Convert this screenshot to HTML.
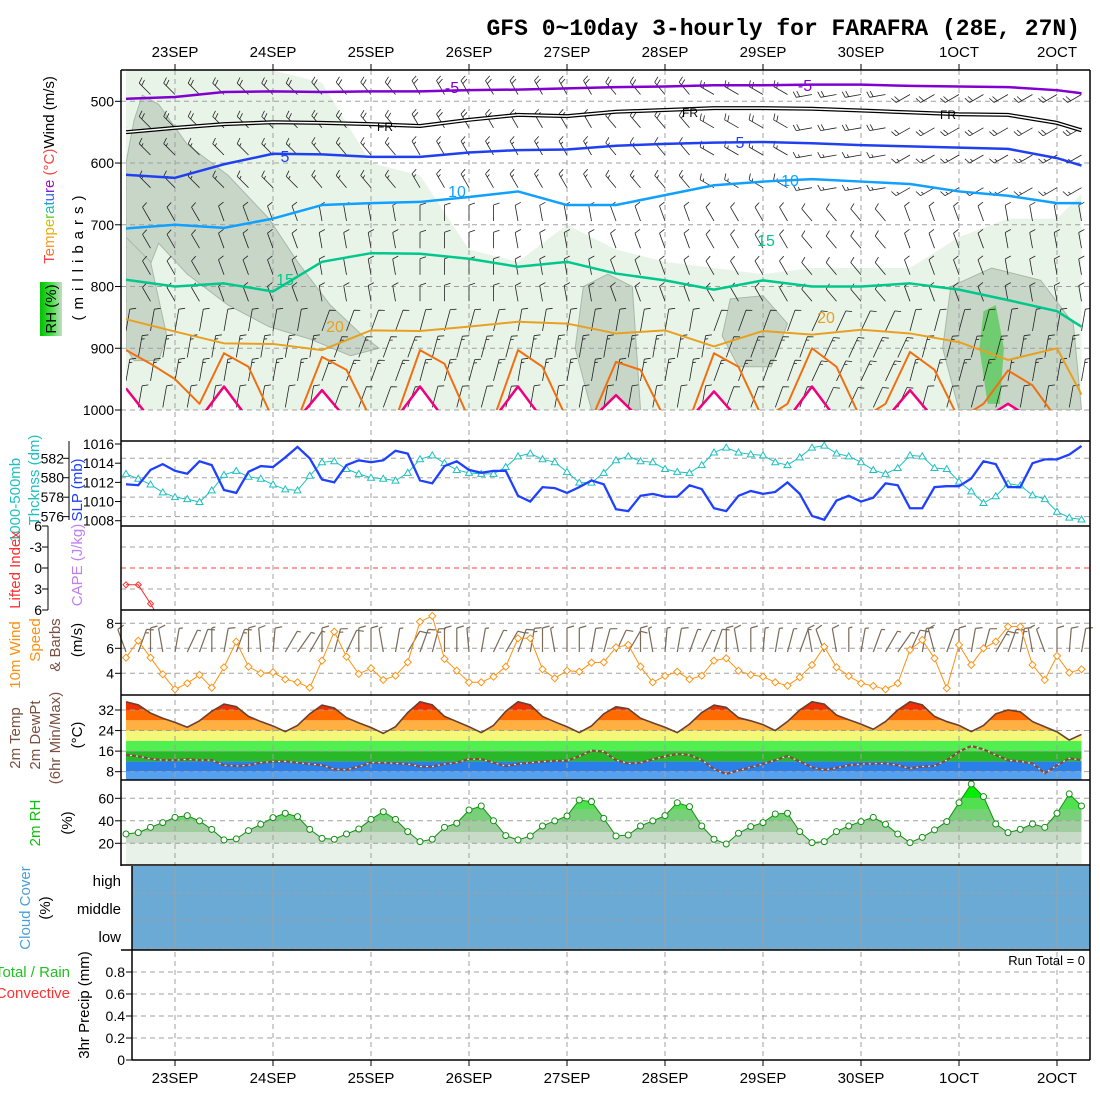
<!DOCTYPE html>
<html><head><meta charset="utf-8"><title>GFS meteogram FARAFRA</title>
<style>
html,body{margin:0;padding:0;background:#fff;}
svg{display:block;font-family:"Liberation Sans",sans-serif;}
</style></head>
<body>
<svg id="chart" xmlns="http://www.w3.org/2000/svg" width="1100" height="1100" viewBox="0 0 1100 1100">
<rect x="0" y="0" width="1100" height="1100" fill="#fff"/>
<text x="1080" y="35" text-anchor="end" font-family="Liberation Mono, monospace" font-weight="bold" font-size="23">GFS 0~10day 3-hourly for FARAFRA (28E, 27N)</text>
<defs>
<clipPath id="c1"><rect x="126" y="70" width="964" height="340"/></clipPath>
<clipPath id="c2"><rect x="121" y="441" width="969" height="85"/></clipPath>
<clipPath id="c3"><rect x="121" y="526" width="969" height="84"/></clipPath>
<clipPath id="c4"><rect x="121" y="610" width="969" height="85"/></clipPath>
<linearGradient id="rhgrad" x1="0" x2="1" y1="0" y2="0"><stop offset="0" stop-color="#00c000"/><stop offset="0.5" stop-color="#40e040"/><stop offset="1" stop-color="#c8dac8"/></linearGradient>
</defs>
<g id="layer-fill"></g>
<g id="layer-grid"></g>
<g id="layer-data"></g>
<g id="layer-frame"></g>
<g id="layer-text" font-size="13"></g>

<g font-size="15">
<text transform="translate(54,170) rotate(-90)" text-anchor="middle"><tspan fill="#ff4040">T</tspan><tspan fill="#ff7030">e</tspan><tspan fill="#ff9a20">m</tspan><tspan fill="#e8b010">p</tspan><tspan fill="#c8c800">e</tspan><tspan fill="#70c830">r</tspan><tspan fill="#20c0a0">a</tspan><tspan fill="#20a0e0">t</tspan><tspan fill="#3060ff">u</tspan><tspan fill="#8020e0">r</tspan><tspan fill="#a010c0">e</tspan><tspan fill="#ff4040"> (°C)</tspan><tspan fill="#000">Wind (m/s)</tspan></text>
<rect x="40" y="282" width="22" height="54" fill="url(#rhgrad)"/>
<text transform="translate(56,309) rotate(-90)" text-anchor="middle" fill="#000">RH (%)</text>
<text transform="translate(83,255) rotate(-90)" text-anchor="middle" letter-spacing="6">(millibars)</text>
<text transform="translate(20,500) rotate(-90)" text-anchor="middle" fill="#20c0c0">1000-500mb</text>
<text transform="translate(39,480) rotate(-90)" text-anchor="middle" fill="#20c0c0">Thcknss (dm)</text>
<text transform="translate(82,490) rotate(-90)" text-anchor="middle" fill="#2040ff">SLP (mb)</text>
<text transform="translate(20,570) rotate(-90)" text-anchor="middle" fill="#ff3030">Lifted Index</text>
<text transform="translate(82,565) rotate(-90)" text-anchor="middle" fill="#c080f0">CAPE (J/kg)</text>
<text transform="translate(20,655) rotate(-90)" text-anchor="middle" fill="#ff9010">10m Wind</text>
<text transform="translate(40,640) rotate(-90)" text-anchor="middle" fill="#ff9010">Speed</text>
<text transform="translate(60,645) rotate(-90)" text-anchor="middle" fill="#7a5040">&amp; Barbs</text>
<text transform="translate(82,640) rotate(-90)" text-anchor="middle">(m/s)</text>
<text transform="translate(20,738) rotate(-90)" text-anchor="middle" fill="#7a5040">2m Temp</text>
<text transform="translate(40,735) rotate(-90)" text-anchor="middle" fill="#7a5040">2m DewPt</text>
<text transform="translate(60,738) rotate(-90)" text-anchor="middle" fill="#7a5040">(6hr Min/Max)</text>
<text transform="translate(82,735) rotate(-90)" text-anchor="middle">(°C)</text>
<text transform="translate(40,823) rotate(-90)" text-anchor="middle" fill="#10c010">2m RH</text>
<text transform="translate(72,823) rotate(-90)" text-anchor="middle">(%)</text>
<text transform="translate(30,908) rotate(-90)" text-anchor="middle" fill="#4aa0d8">Cloud Cover</text>
<text transform="translate(50,908) rotate(-90)" text-anchor="middle">(%)</text>
<text x="70" y="977" text-anchor="end" fill="#20c020">Total / Rain</text>
<text x="70" y="998" text-anchor="end" fill="#ff3030">Convective</text>
<text transform="translate(89,1005) rotate(-90)" text-anchor="middle">3hr Precip (mm)</text>
<text x="121" y="886" text-anchor="end">high</text>
<text x="121" y="914" text-anchor="end">middle</text>
<text x="121" y="942" text-anchor="end">low</text>
<text x="1085" y="965" text-anchor="end" font-size="13">Run Total = 0</text>
</g>
</svg>
<script>
const dayLabels = ["23SEP","24SEP","25SEP","26SEP","27SEP","28SEP","29SEP","30SEP","1OCT","2OCT"];
const slp = [1011.8,1011.7,1013.3,1013.9,1013.2,1012.9,1014.2,1013.8,1011.2,1010.9,1013.1,1013.7,1013.6,1014.6,1015.7,1014.5,1012.3,1012.0,1013.8,1014.3,1014.1,1014.3,1015.3,1015.0,1012.2,1011.9,1013.7,1014.2,1013.3,1013.0,1013.2,1013.2,1010.6,1010.0,1011.5,1011.4,1010.9,1011.5,1012.2,1011.8,1009.2,1009.0,1010.6,1010.8,1010.5,1010.5,1011.7,1011.3,1009.3,1009.0,1010.6,1011.1,1010.8,1011.0,1012.0,1010.8,1008.5,1008.1,1010.1,1010.6,1010.0,1010.4,1011.9,1011.7,1009.3,1009.3,1011.5,1011.6,1011.6,1012.4,1014.2,1013.9,1011.5,1011.5,1014.0,1014.4,1014.4,1014.9,1015.8];
const thickness = [580.4,579.9,579.3,578.5,578.0,577.8,577.5,578.7,580.3,580.7,580.1,579.9,579.3,578.8,578.7,580.2,581.6,581.7,580.9,580.4,580.0,579.9,579.7,580.5,581.9,582.3,581.5,580.8,580.5,580.4,580.4,581.1,582.2,582.5,581.9,581.6,580.6,579.5,579.5,580.5,581.8,582.2,581.7,581.6,580.9,580.6,580.5,581.3,582.6,583.1,582.6,582.4,582.3,581.6,581.3,582.1,583.1,583.3,582.5,582.2,581.6,580.8,580.4,581.0,582.3,582.2,581.0,580.9,579.6,578.6,577.4,578.1,579.4,579.2,578.2,577.8,576.5,575.9,575.7];
const liftedIndex = [2.4,2.4,5.1,8,9,9,9,9,9,9,9,9,9,9,9,9,9,9,9,9,9,9,9,9,9,9,9,9,9,9,9,9,9,9,9,9,9,9,9,9,9,9,9,9,9,9,9,9,9,9,9,9,9,9,9,9,9,9,9,9,9,9,9,9,9,9,9,9,9,9,9,9,9,9,9,9,9,9,9];
const windSpeed = [5.25,6.61,5.25,3.92,2.72,3.2,3.87,2.85,4.48,6.53,4.53,4.0,4.08,3.52,3.28,2.85,5.01,7.33,5.33,3.95,4.4,3.47,3.81,4.88,8.13,8.59,5.15,4.21,3.28,3.28,3.73,4.53,6.8,6.8,4.32,3.6,4.21,4.13,4.85,4.88,6.08,6.27,4.53,3.28,3.79,4.13,3.52,3.81,5.01,5.2,4.21,3.87,3.73,3.28,3.01,3.68,4.67,6.13,4.48,3.79,3.2,2.99,2.72,3.2,5.87,6.67,5.2,2.8,6.27,4.67,6.0,6.53,7.73,7.73,4.67,3.47,5.39,4.05,4.32];
const windDir10 = [340,20,0,350,10,25,20,0,10,20,0,355,5,30,35,30,0,15,25,0,0,350,10,30,20,15,0,0,355,10,25,30,20,10,0,350,0,0,10,15,25,30,0,350,5,10,20,25,20,0,350,0,5,10,15,20,350,340,350,0,10,20,30,35,25,10,345,20,0,10,15,30,20,10,350,340,0,5,10];
const temp2m = [35.2,34.0,30.8,28.8,27.2,25.3,27.8,31.5,34.3,33.3,29.5,27.5,25.8,23.6,26.0,30.5,33.9,32.8,29.0,27.0,25.2,22.9,25.5,31.0,35.2,34.0,29.5,27.5,25.5,23.2,26.0,31.5,35.2,34.0,29.5,27.4,25.5,23.2,25.8,30.5,33.3,32.5,28.8,27.0,25.3,23.2,26.5,31.0,33.9,33.0,29.0,27.8,26.3,24.0,27.5,32.0,35.2,34.3,30.0,28.2,26.5,24.5,27.5,32.0,35.2,34.0,29.5,27.5,26.0,23.6,26.0,30.5,32.0,31.3,27.5,25.5,23.5,20.3,22.5];
const dewPt2m = [14.5,14.0,13.0,12.5,12.5,12.8,12.5,12.5,10.5,10.2,10.5,11.5,11.9,12.0,11.5,11.0,10.5,9.0,8.7,10.0,11.5,11.5,11.2,11.0,10.0,10.0,11.0,11.5,12.9,12.9,11.5,10.2,11.0,11.5,11.9,12.2,12.3,14.0,16.2,15.8,12.5,11.2,11.5,12.8,14.0,14.9,14.5,12.5,9.0,7.1,8.5,9.7,11.0,12.5,14.1,12.0,9.7,8.7,9.5,10.5,11.0,11.1,11.2,10.5,9.3,10.0,10.2,12.5,15.8,18.0,16.7,14.5,12.5,12.0,11.2,7.4,10.5,13.2,12.5];
const rh2m = [28.3,29.5,34.2,38.4,43.1,44.6,39.9,32.4,23.0,23.9,31.3,36.9,42.8,46.7,43.7,32.4,24.4,23.6,28.3,32.7,41.3,48.1,41.3,30.4,21.5,23.6,34.2,37.8,49.6,53.2,40.1,26.8,23.0,26.5,35.4,39.9,44.3,58.5,57.0,42.2,26.5,27.4,35.4,39.9,44.6,56.1,52.6,35.4,23.6,19.4,28.9,34.8,38.4,46.1,46.7,30.4,20.6,21.5,30.4,35.4,39.3,43.1,36.9,28.3,20.6,25.3,31.9,39.3,56.1,72.7,61.5,37.2,29.5,32.4,37.2,34.2,46.7,63.9,53.2];
const precip3h = [0,0,0,0,0,0,0,0,0,0,0,0,0,0,0,0,0,0,0,0,0,0,0,0,0,0,0,0,0,0,0,0,0,0,0,0,0,0,0,0,0,0,0,0,0,0,0,0,0,0,0,0,0,0,0,0,0,0,0,0,0,0,0,0,0,0,0,0,0,0,0,0,0,0,0,0,0,0,0];
const hours12 = [0,12,24,36,48,60,72,84,96,108,120,132,144,156,168,180,192,204,216,228,234];
const isoM5 = [496,493,485,484,485,484,484,482,481,479,477,476,474,474,473,473,475,476,477,482,487];
const isoFR = [550,543,537,534,535,537,540,530,522,524,517,514,511,511,512,515,518,521,522,535,547];
const iso5 = [619,624,602,585,586,590,590,583,579,578,572,569,567,566,568,571,573,575,577,592,604];
const iso10 = [706,700,705,690,668,665,663,655,646,668,668,652,636,630,626,630,634,646,653,665,665];
const iso15 = [789,800,795,808,760,746,747,755,768,760,779,790,805,790,800,800,795,805,822,840,865];
const iso20 = [853,873,892,893,903,871,872,865,857,860,876,871,897,872,878,870,876,890,919,900,975];
const moistTop = [450,450,450,450,470,600,620,740,760,700,740,760,770,780,770,770,770,720,690,690,650];
const hours6 = [0,6,12,18,24,30,36,42,48,54,60,66,72,78,84,90,96,102,108,114,120,126,132,138,144,150,156,162,168,174,180,186,192,198,204,210,216,222,228,234];
const iso25 = [903,925,950,990,908,930,1015,1015,914,935,1015,1015,903,925,1015,1015,903,930,1015,1015,922,935,1015,1015,908,930,1015,990,900,930,1015,990,906,935,1015,990,936,960,1015,1015];
const iso30 = [965,1015,1015,1015,962,1015,1015,1015,968,1015,1015,1015,962,1015,1015,1015,962,1015,1015,1015,976,1015,1015,1015,970,1015,1015,1015,962,1015,1015,1015,968,1015,1015,1015,990,1015,1015,1015];
const blobA = [[4,490],[8,505],[15,570],[25,620],[35,690],[42,760],[50,830],[58,880],[62,900],[55,912],[45,885],[35,865],[25,830],[15,780],[8,730],[2,830],[0,860],[0,600],[2,530]];
const blobB = [[0,720],[6,760],[10,880],[8,920],[2,920],[0,900]];
const blobC = [[112,800],[118,780],[124,800],[126,1000],[114,1000],[110,900]];
const blobD = [[148,820],[156,815],[162,860],[158,930],[150,930],[146,880]];
const blobE = [[202,800],[212,770],[224,790],[232,860],[234,1000],[204,1000],[200,900]];
const blobF = [[210,840],[213,830],[215,900],[214,990],[211,990],[209,900]];
const windLevels = [476,530,574,627,681,725,768,811,854,897,935,978];
const windLevelSpeed = [20,20,15,15,10,10,10,10,10,15,15,10];
const upperDirByDay = [315,315,320,330,330,320,300,260,240,240];
const midDirByDay = [330,340,350,0,350,340,330,320,340,350];
const lowDirByDay = [10,10,20,15,10,10,20,25,15,10];

const X0 = 126, PXH = 12.25/3;
function xH(h){ return X0 + h*PXH; }
function xi(i){ return X0 + i*12.25; }
function yP(p){ return 101.3 + (p-500)*0.6174; }
function ySLP(v){ return 444 + (1016-v)*9.59; }
function yThk(v){ return 458.3 + (582-v)*9.72; }
function yLI(v){ return 568 + v*7.0; }
function yWS(v){ return 623.3 + (8-v)*12.5; }
function yT(v){ return 710 + (32-v)*2.57; }
function yRH(v){ return 798.3 + (60-v)*1.125; }
function yPr(v){ return 1060 - v*110; }

const NS="http://www.w3.org/2000/svg";
function mk(parent, tag, attrs){
  const e=document.createElementNS(NS,tag);
  for(const k in attrs) e.setAttribute(k,attrs[k]);
  parent.appendChild(e); return e;
}
const gFill=document.getElementById('layer-fill');
const gGrid=document.getElementById('layer-grid');
const gData=document.getElementById('layer-data');
const gFrame=document.getElementById('layer-frame');
const gText=document.getElementById('layer-text');

let mt = hours12.map((h,k)=>xH(h)+','+yP(moistTop[k])).join(' ');
mt += ' '+xH(234)+','+yP(1000)+' '+xH(0)+','+yP(1000);
const moist=mk(gFill,'polygon',{points:mt,fill:'#e9f4e9','clip-path':'url(#c1)'});


const blobs=[blobA,blobB,blobC,blobD,blobE];
blobs.forEach(function(b){
  const pg=mk(gFill,'polygon',{points:b.map(q=>xH(q[0])+','+yP(q[1])).join(' '),fill:'#c8d6c8',stroke:'#a8b8a8','stroke-width':1,'clip-path':'url(#c1)'});
  
  
});
const core=mk(gFill,'polygon',{points:blobF.map(q=>xH(q[0])+','+yP(q[1])).join(' '),fill:'#70cc70','clip-path':'url(#c1)'});


const holePts = hours6.map((h,k)=>xH(h)+','+yP(Math.min(iso30[k],1015))).join(' ')+' '+xH(234)+','+yP(1015)+' '+xH(0)+','+yP(1015);
const hole=mk(gFill,'polygon',{points:holePts,fill:'#ffffff','clip-path':'url(#c1)'});



function hgrid(y,x1,name){
  const l=mk(gGrid,'line',{x1:x1,x2:1090,y1:y,y2:y,stroke:'#a0a0a0','stroke-dasharray':'5,4','stroke-width':1});
  
  
}
[500,600,700,800,900,1000].forEach(p=>hgrid(yP(p),121,'pressure-gridline'));
[582,580,578,576].forEach(v=>hgrid(yThk(v),121,'thickness-gridline'));
[-3,3].forEach(v=>hgrid(yLI(v),121,'li-gridline'));
[8,6,4].forEach(v=>hgrid(yWS(v),121,'wind-gridline'));
[32,24,16,8].forEach(v=>hgrid(yT(v),121,'temp-gridline'));
[60,40,20].forEach(v=>hgrid(yRH(v),121,'rh-gridline'));
[0.2,0.4,0.6,0.8].forEach(v=>hgrid(yPr(v),132,'precip-gridline'));
const li0=mk(gGrid,'line',{x1:121,x2:1090,y1:yLI(0),y2:yLI(0),stroke:'#ff4040','stroke-dasharray':'5,4'});



let tArea = temp2m.map((v,i)=>xi(i)+','+yT(v)).join(' ')+' '+xi(78)+',780 '+xi(0)+',780';
const defs=document.querySelector('defs');
const cpT=mk(defs,'clipPath',{id:'ctemp'}); mk(cpT,'polygon',{points:tArea});
const tBands=[[4,8,'#55a0f0'],[8,12,'#2a80e8'],[12,16,'#28b828'],[16,20,'#50f050'],[20,24,'#f4f878'],[24,28,'#ffb040'],[28,32,'#ff6a00'],[32,40,'#f03000']];
tBands.forEach(function(b){
  const r=mk(gFill,'rect',{x:126,width:964,y:Math.max(yT(b[1]),695),height:Math.min(yT(b[0]),780)-Math.max(yT(b[1]),695),fill:b[2],'clip-path':'url(#ctemp)'});
  
  
});
let rArea = rh2m.map((v,i)=>xi(i)+','+yRH(v)).join(' ')+' '+xi(78)+',865 '+xi(0)+',865';
const cpR=mk(defs,'clipPath',{id:'crh'}); mk(cpR,'polygon',{points:rArea});
const rBands=[[0,20,'#e8f2e8'],[20,30,'#c8dac8'],[30,40,'#a0cca0'],[40,50,'#78d078'],[50,60,'#50e050'],[60,100,'#00ee00']];
rBands.forEach(function(b){
  const top=Math.max(yRH(b[1]),780), bot=Math.min(yRH(b[0]),865);
  const r=mk(gFill,'rect',{x:126,width:964,y:top,height:bot-top,fill:b[2],'clip-path':'url(#crh)'});
  
  
});
const cloud=mk(gFill,'rect',{x:132,y:866,width:958,height:84,fill:'#6aaad4'});


[893,920,948].forEach(v=>{const l=mk(gData,'line',{x1:132,x2:1090,y1:v,y2:v,stroke:'#a0a0a0','stroke-dasharray':'5,4'});

});

dayLabels.forEach(function(lab,k){
  const x=xH(12+24*k);
  const l=mk(gGrid,'line',{x1:x,x2:x,y1:70,y2:1060,stroke:'#a0a0a0','stroke-dasharray':'5,4'});
  
  
  const l2=mk(gData,'line',{x1:x,x2:x,y1:866,y2:950,stroke:'#a0a0a0','stroke-dasharray':'5,4'});
  
  
  const t1=mk(gText,'text',{x:x,y:57,'text-anchor':'middle','font-size':15});
  t1.textContent=lab;
  
  
  const t2=mk(gText,'text',{x:x,y:1083,'text-anchor':'middle','font-size':15});
  t2.textContent=lab;
  
  
  const tk=mk(gFrame,'line',{x1:x,x2:x,y1:64,y2:70,stroke:'#000'});
  
  
  const tk2=mk(gFrame,'line',{x1:x,x2:x,y1:1060,y2:1066,stroke:'#000'});
  
  
});

function barb(g,x,y,dir,kt,len,color,sw,name,fl){
  const r=dir*Math.PI/180, vx=Math.sin(r), vy=-Math.cos(r), px=Math.cos(r), py=Math.sin(r);
  const ex=x+vx*len, ey=y+vy*len;
  let d='M'+x.toFixed(1)+' '+y.toFixed(1)+'L'+ex.toFixed(1)+' '+ey.toFixed(1);
  let n=Math.round(kt/5), pos=0;
  while(n>=2){ const bx=ex-vx*pos, by=ey-vy*pos; d+='M'+bx.toFixed(1)+' '+by.toFixed(1)+'l'+((px*fl+vx*2)).toFixed(1)+' '+((py*fl+vy*2)).toFixed(1); pos+=3.5; n-=2; }
  if(n===1){ const bx=ex-vx*pos, by=ey-vy*pos; d+='M'+bx.toFixed(1)+' '+by.toFixed(1)+'l'+((px*fl/2+vx)).toFixed(1)+' '+((py*fl/2+vy)).toFixed(1); }
  const p=mk(g,'path',{d:d,stroke:color,'stroke-width':sw,fill:'none'});
  
  
}
const gB=mk(gData,'g',{'clip-path':'url(#c1)'});
windLevels.forEach(function(lv,li){
  const step = 2;
  const off = (lv>=850 && li%2===1) ? 1 : 0;
  for(let i=off;i<79;i+=step){
    const day=Math.min(9,Math.floor(i/8));
    const dir = lv<=627 ? upperDirByDay[day] : (lv<=811 ? midDirByDay[day] : lowDirByDay[day]);
    const len = lv<850 ? 16 : 22;
    barb(gB,xi(i),yP(lv)+len*0.5,dir,windLevelSpeed[li],len,'#222',0.8,'upper-wind-barb',6);
  }
});
function contour(vals,hrs,color,w,name){
  const pts=hrs.map((h,k)=>xH(h)+','+yP(vals[k])).join(' ');
  const pl=mk(gData,'polyline',{points:pts,fill:'none',stroke:color,'stroke-width':w,'clip-path':'url(#c1)','stroke-linejoin':'round'});
  
  
}
contour(isoM5,hours12,'#8000d0',2.5,'isotherm-minus5');
contour(isoFR,hours12,'#000',4,'isotherm-freezing');
contour(isoFR,hours12,'#fff',1.5,'isotherm-freezing-inner');
contour(iso5,hours12,'#2040f0',2.5,'isotherm-5');
contour(iso10,hours12,'#10a0ff',2.5,'isotherm-10');
contour(iso15,hours12,'#00c88c',2.5,'isotherm-15');
contour(iso20,hours12,'#e8a020',2,'isotherm-20');
contour(iso25,hours6,'#f07010',2,'isotherm-25');
contour(iso30,hours6,'#f0007f',2.5,'isotherm-30');
const cl=[["-5",452,93,'#8000d0'],["-5",805,91,'#8000d0'],["FR",385,131,'#000'],["FR",690,117,'#000'],["FR",948,119,'#000'],["5",285,162,'#2040f0'],["5",740,148,'#2040f0'],["10",457,197,'#10a0ff'],["10",790,186,'#10a0ff'],["15",285,285,'#00c88c'],["15",766,246,'#00c88c'],["20",335,332,'#e8a020'],["20",826,323,'#e8a020']];
cl.forEach(function(c){
  const t=mk(gText,'text',{x:c[1],y:c[2],'text-anchor':'middle',fill:c[3],'font-size':c[0]==='FR'?12:16});
  t.textContent=c[0];
  
  
});

const thkLine=mk(gData,'polyline',{points:thickness.map((v,i)=>xi(i)+','+yThk(v)).join(' '),fill:'none',stroke:'#20c0c0','stroke-width':1,'clip-path':'url(#c2)'});


thickness.forEach(function(v,i){
  const x=xi(i),y=yThk(v);
  const tr=mk(gData,'polygon',{points:(x)+','+(y-3.5)+' '+(x-3.5)+','+(y+2.5)+' '+(x+3.5)+','+(y+2.5),fill:'#fff',stroke:'#20c0c0','stroke-width':1,'clip-path':'url(#c2)'});
  
  
});
const slpLine=mk(gData,'polyline',{points:slp.map((v,i)=>xi(i)+','+ySLP(v)).join(' '),fill:'none',stroke:'#2040ff','stroke-width':2.3,'clip-path':'url(#c2)'});


const liLine=mk(gData,'polyline',{points:liftedIndex.map((v,i)=>xi(i)+','+yLI(v)).join(' '),fill:'none',stroke:'#ff3030','stroke-width':1,'clip-path':'url(#c3)'});


liftedIndex.forEach(function(v,i){ if(v<6){
  const x=xi(i),y=yLI(v);
  const m=mk(gData,'polygon',{points:x+','+(y-3)+' '+(x+3)+','+y+' '+x+','+(y+3)+' '+(x-3)+','+y,fill:'none',stroke:'#ff3030'});
  
  
}});
windDir10.forEach(function(d,i){ barb(gData,xi(i),652,d,windSpeed[i]*1.94,24,'#7a6a58',1.2,'wind10-barb',7); });
const wsLine=mk(gData,'polyline',{points:windSpeed.map((v,i)=>xi(i)+','+yWS(v)).join(' '),fill:'none',stroke:'#ff9010','stroke-width':1,'clip-path':'url(#c4)'});


windSpeed.forEach(function(v,i){
  const x=xi(i),y=yWS(v);
  const m=mk(gData,'polygon',{points:x+','+(y-3.5)+' '+(x+3.5)+','+y+' '+x+','+(y+3.5)+' '+(x-3.5)+','+y,fill:'#fff',stroke:'#ff9010','clip-path':'url(#c4)'});
  
  
});
const tLine=mk(gData,'polyline',{points:temp2m.map((v,i)=>xi(i)+','+yT(v)).join(' '),fill:'none',stroke:'#6a4030','stroke-width':1.6});


const dPts=dewPt2m.map((v,i)=>xi(i)+','+yT(v)).join(' ');
const dLine1=mk(gData,'polyline',{points:dPts,fill:'none',stroke:'#e8e8e8','stroke-width':1});


const dLine=mk(gData,'polyline',{points:dPts,fill:'none',stroke:'#8a4a3a','stroke-width':2.2,'stroke-dasharray':'4,2'});


const rLine=mk(gData,'polyline',{points:rh2m.map((v,i)=>xi(i)+','+yRH(v)).join(' '),fill:'none',stroke:'#109010','stroke-width':1});


rh2m.forEach(function(v,i){
  const c=mk(gData,'circle',{cx:xi(i),cy:yRH(v),r:3,fill:'#fff',stroke:'#109010'});
  
  
});
precip3h.forEach(function(v,i){ if(v>0){
  const b=mk(gData,'rect',{x:xi(i)-4,y:yPr(v),width:8,height:1060-yPr(v),fill:'#20c020'});
  
  
}});

function frameLine(x1,y1,x2,y2,name,w){
  const l=mk(gFrame,'line',{x1:x1,y1:y1,x2:x2,y2:y2,stroke:'#000','stroke-width':w||1.5});
  
  
}
frameLine(121,70,1090,70,'panel-border-top');
frameLine(121,70,121,866,'left-axis');
frameLine(1090,70,1090,1060,'right-axis');
[441,526,610,695,780,865,950].forEach(y=>frameLine(121,y,1090,y,'panel-separator'));
frameLine(132,866,132,1060,'precip-left-axis');
frameLine(132,1060,1090,1060,'bottom-axis');
frameLine(69,441,69,520,'thickness-axis',1);
frameLine(48,526,48,610,'li-axis',1);
function tickLabel(txt,xr,y,tickX,name,col){
  const t=mk(gText,'text',{x:xr,y:y+5,'text-anchor':'end','font-size':14,fill:col||'#000'});
  t.textContent=txt;
  
  
  const k=mk(gFrame,'line',{x1:tickX-6,x2:tickX,y1:y,y2:y,stroke:'#000'});
  
  
}
[500,600,700,800,900,1000].forEach(p=>tickLabel(String(p),114,yP(p),121,'pressure-tick-label'));
[1008,1010,1012,1014,1016].forEach(v=>tickLabel(String(v),114,ySLP(v),121,'slp-tick-label'));
[576,578,580,582].forEach(v=>tickLabel(String(v),64,yThk(v),69,'thickness-tick-label'));
[["6",-6],["-3",-3],["0",0],["3",3],["6",6]].forEach(a=>tickLabel(a[0],42,yLI(a[1]),48,'li-tick-label'));
[8,6,4].forEach(v=>tickLabel(String(v),114,yWS(v),121,'wind-tick-label'));
[32,24,16,8].forEach(v=>tickLabel(String(v),114,yT(v),121,'temp-tick-label'));
[60,40,20].forEach(v=>tickLabel(String(v),114,yRH(v),121,'rh-tick-label'));
[["0",0],["0.2",0.2],["0.4",0.4],["0.6",0.6],["0.8",0.8]].forEach(a=>tickLabel(a[0],125,yPr(a[1]),132,'precip-tick-label'));
</script>
</body></html>
